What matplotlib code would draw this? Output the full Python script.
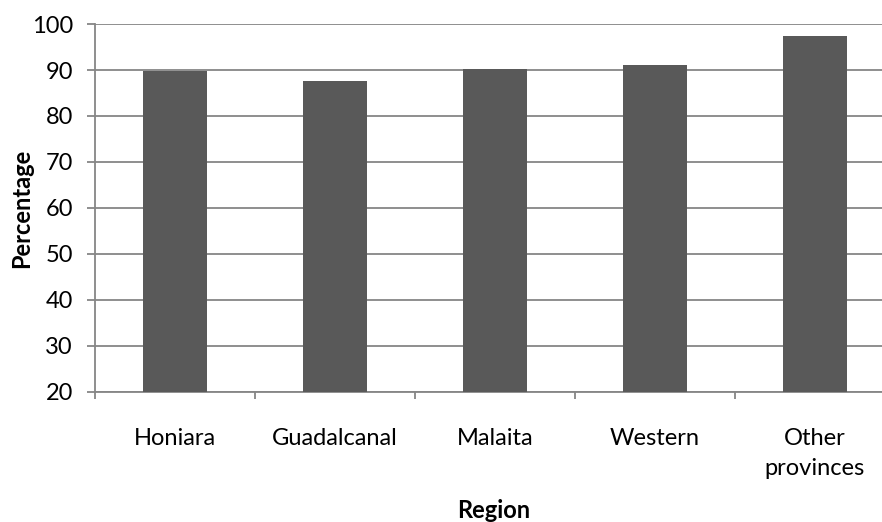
import matplotlib
matplotlib.use("Agg")
import matplotlib.pyplot as plt
import numpy as np

regions = ["Honiara", "Guadalcanal", "Malaita", "Western", "Other\nprovinces"]
percentages = [89.8, 87.6, 90.2, 91.0, 97.4]
y_ticks = [20, 30, 40, 50, 60, 70, 80, 90, 100]

plt.rcParams["font.family"] = ["Lato", "DejaVu Sans"]

W, H = 882, 522
fig = plt.figure(figsize=(W / 100, H / 100), dpi=100)
ax = fig.add_axes([95 / W, (H - 392) / H, 800 / W, 368 / H])

x = np.arange(len(regions))
ax.bar(x, [p - 20 for p in percentages], bottom=20, width=0.4,
       color="#595959", zorder=3)

ax.set_xlim(-0.5, len(regions) - 0.5)
ax.set_ylim(20, 100)
ax.set_yticks(y_ticks)
ax.set_yticklabels([str(t) for t in y_ticks], fontsize=17)
ax.yaxis.grid(True, color="#868686", linewidth=1.3, zorder=0)
ax.set_axisbelow(True)

ax.set_xticks(np.arange(-0.5, len(regions), 1.0))
ax.set_xticklabels([])
ax.set_xticks(x, minor=True)
ax.set_xticklabels(regions, minor=True, fontsize=17, linespacing=1.55, va="top")
ax.tick_params(axis="x", which="minor", length=0, pad=26)
ax.tick_params(axis="x", which="major", length=5, color="#868686", width=1.3)
ax.tick_params(axis="y", length=6, color="#868686", width=1.3, pad=10)

for s in ["top", "right"]:
    ax.spines[s].set_visible(False)
for s in ["left", "bottom"]:
    ax.spines[s].set_color("#868686")
    ax.spines[s].set_linewidth(1.3)

fig.text(22 / W, 1 - 208 / H, "Percentage", fontsize=17, fontweight="bold",
         rotation=90, ha="center", va="center")
fig.text(494 / W, 1 - 510 / H, "Region", fontsize=17, fontweight="bold",
         ha="center", va="center")

fig.savefig("out.png", dpi=100)
